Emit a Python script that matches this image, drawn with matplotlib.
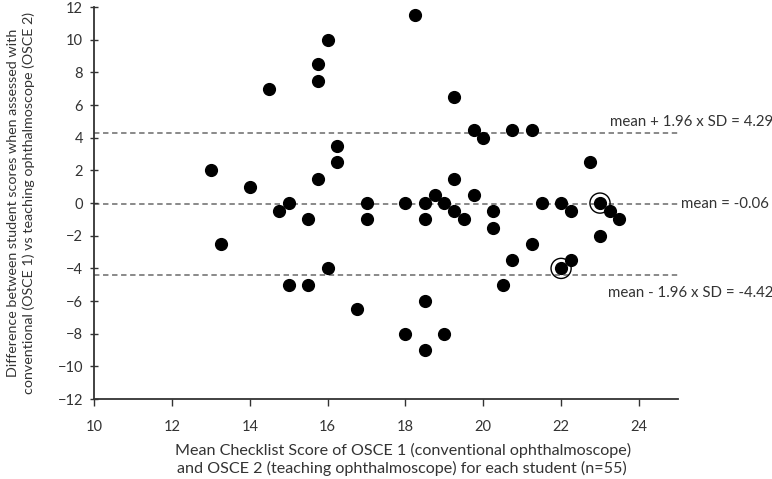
import matplotlib.pyplot as plt
import numpy as np

# mean checklist score (x) and difference OSCE1 - OSCE2 (y)
mean_score = [13, 13.25, 14, 14.5, 14.75, 15, 15, 15.5, 15.5, 15.75, 15.75, 15.75,
              16, 16, 16.25, 16.25, 16.75, 17, 17, 18, 18, 18.25, 18.5, 18.5, 18.5,
              18.5, 18.75, 19, 19, 19.25, 19.25, 19.25, 19.5, 19.75, 19.75, 20,
              20.25, 20.25, 20.5, 20.75, 20.75, 21.25, 21.25, 21.5, 22, 22, 22.25,
              22.25, 22.75, 23, 23, 23.25, 23.5]
difference = [2, -2.5, 1, 7, -0.5, 0, -5, -1, -5, 8.5, 7.5, 1.5,
              10, -4, 3.5, 2.5, -6.5, 0, -1, 0, -8, 11.5, 0, -1, -6,
              -9, 0.5, 0, -8, 6.5, 1.5, -0.5, -1, 4.5, 0.5, 4,
              -0.5, -1.5, -5, 4.5, -3.5, 4.5, -2.5, 0, 0, -4, -0.5,
              -3.5, 2.5, 0, -2, -0.5, -1]
circled_x = [23, 22]
circled_y = [0, -4]

mean_diff = -0.06
upper_loa = 4.29
lower_loa = -4.42

plt.rcParams['font.family'] = ['Lato', 'DejaVu Sans']

fig = plt.figure(figsize=(7.72, 4.79), dpi=100)
ax = fig.add_axes([0.122, 0.167, 0.756, 0.818])

ax.scatter(mean_score, difference, s=72, color='black', zorder=3)
ax.scatter(circled_x, circled_y, s=210, facecolors='none', edgecolors='black',
           linewidths=1.0, zorder=4)

for v in [upper_loa, mean_diff, lower_loa]:
    ax.axhline(v, color='#808080', linestyle=(0, (3, 2)), linewidth=1.3, zorder=1)

ax.text(23.25, upper_loa + 0.68, 'mean + 1.96 x SD = 4.29', fontsize=10.8,
        ha='left', va='center', color='#333333', clip_on=False)
ax.text(25.08, mean_diff, 'mean = -0.06', fontsize=10.8, ha='left', va='center',
        color='#333333', clip_on=False)
ax.text(23.2, lower_loa - 1.08, 'mean - 1.96 x SD = -4.42', fontsize=10.8,
        ha='left', va='center', color='#333333', clip_on=False)

ax.set_xlim(10, 25)
ax.set_ylim(-12, 12)
ax.set_xticks(np.arange(10, 25, 2))
ax.set_yticks(np.arange(-12, 13, 2))
ax.spines['top'].set_visible(False)
ax.spines['right'].set_visible(False)
ax.spines['left'].set_color('#333333')
ax.spines['bottom'].set_color('#333333')
ax.spines['left'].set_linewidth(1.3)
ax.spines['bottom'].set_linewidth(1.3)
ax.tick_params(axis='both', labelsize=10.5, colors='#333333', width=1.0)
ax.tick_params(axis='x', direction='out', length=5, pad=10)
ax.tick_params(axis='y', direction='inout', length=6, pad=5)

# x label is left aligned in the original, so place the two lines by hand
fig.text(175 / 772, 1 - 450 / 479,
         'Mean Checklist Score of OSCE 1 (conventional ophthalmoscope)',
         fontsize=11.6, color='#333333', ha='left', va='center')
fig.text(177 / 772, 1 - 468 / 479,
         'and OSCE 2 (teaching ophthalmoscope) for each student (n=55)',
         fontsize=11.6, color='#333333', ha='left', va='center')

ax.set_ylabel('Difference between student scores when assessed with\n'
              'conventional (OSCE 1) vs teaching ophthalmoscope (OSCE 2)',
              fontsize=10.3, color='#333333', labelpad=16, linespacing=1.4)

fig.savefig('out.png', dpi=100)
